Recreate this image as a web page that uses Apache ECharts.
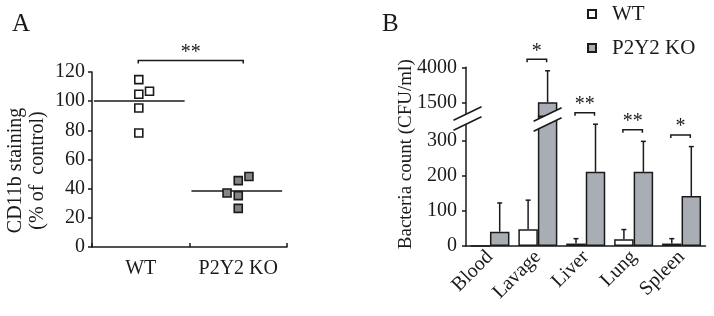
<!DOCTYPE html>
<html><head><meta charset="utf-8">
<script src="https://cdn.jsdelivr.net/npm/echarts@6/dist/echarts.min.js"></script>
<style>html,body{margin:0;padding:0;background:#fff}#c{width:714px;height:316px}</style>
</head><body><div id="c"></div>
<script>
// ---------- Panel A data ----------
const groupsA = ['WT', 'P2Y2 KO'];
const wtValuesA = [114.8, 104.7, 106.8, 95.3, 78.2];
const wtJitterA = [-0.02, -0.02, 0.09, -0.02, -0.02];
const koValuesA = [48.3, 45.5, 37.0, 35.2, 26.5];
const koJitterA = [0.11, 0, -0.115, 0, 0];
const mediansA = [100.1, 38.4];
const sigA = '**';

// ---------- Panel B data ----------
const categoriesB = ['Blood', 'Lavage', 'Liver', 'Lung', 'Spleen'];
const wtMeanB = [0, 48, 7, 19, 7];
const wtSdB = [0, 83, 14, 28, 14];
const koMeanB = [41, 1500, 212, 212, 143];
const koSdB = [82, 2250, 136, 87, 141];
const sigB = ['', '*', '**', '**', '*'];
const lowTicksB = [0, 100, 200, 300];
const highTicksB = [1500, 4000];

// ---------- style / layout ----------
const FONT = 'Liberation Serif';
const INK = '#1a1a1a';
const KO_BAR = '#a9adb5';
const KO_DOT = '#858585';
const LW = 1.5;
const HALF = 0.2035;      // half of bar width as fraction of category band
const LOW_MAX = 370, HIGH_MIN = 500;

const gridA = {left: 92, top: 72, width: 195, height: 175};
const gridBLow = {left: 466, top: 116.5, width: 239.5, height: 129.5};
const gridBHigh = {left: 466, top: 67.3, width: 239.5, height: 49};

const chart = echarts.init(document.getElementById('c'));

const lblStyle = {fontFamily: FONT, fontSize: 20, color: INK};
const axisLine = {show: true, onZero: false, lineStyle: {color: INK, width: LW}};
const plain = v => String(v);

function medianItem(params, api) {
  const i = api.value(0), m = api.value(1);
  const p1 = api.coord([i - 0.48, m]);
  const p2 = api.coord([i + 0.45, m]);
  return {type: 'line', shape: {x1: p1[0], y1: p1[1], x2: p2[0], y2: p2[1]},
          style: {stroke: INK, lineWidth: LW}};
}
function bracketAItem(params, api) {
  const top = api.value(1);
  const l = api.coord([0, top]), r = api.coord([1, top]);
  const y = l[1] - 19, xl = l[0] - 2.5, xr = r[0] + 5;
  return {type: 'group', children: [
    {type: 'polyline', shape: {points: [[xl, y + 3], [xl, y], [xr, y], [xr, y + 3]]},
     style: {stroke: INK, lineWidth: LW, fill: null}},
    {type: 'text', style: {text: sigA, x: (xl + xr) / 2, y: y - 8, align: 'center', verticalAlign: 'middle',
     fontFamily: FONT, fontSize: 20, fill: INK}}
  ]};
}
function errorItem(params, api) {
  const i = api.value(0), mean = api.value(1), sd = api.value(2), s = api.value(3);
  if (!(sd > 0)) return null;
  const band = api.size([1, 0])[0];
  const c0 = api.coord([i, mean]);
  const c1 = api.coord([i, mean + sd]);
  const x = c0[0] + (s ? 1 : -1) * band * HALF;
  return {type: 'group', children: [
    {type: 'line', shape: {x1: x, y1: c0[1], x2: x, y2: c1[1]}, style: {stroke: INK, lineWidth: LW}},
    {type: 'line', shape: {x1: x - 2.5, y1: c1[1], x2: x + 2.5, y2: c1[1]}, style: {stroke: INK, lineWidth: LW}}
  ]};
}
function bracketBItem(params, api) {
  const i = api.value(0), top = api.value(1);
  const band = api.size([1, 0])[0];
  const c = api.coord([i, top]);
  const off = band * HALF;
  const y = c[1] - 11.5, xl = c[0] - off - 1, xr = c[0] + off - 1;
  return {type: 'group', children: [
    {type: 'polyline', shape: {points: [[xl, y + 3], [xl, y], [xr, y], [xr, y + 3]]},
     style: {stroke: INK, lineWidth: LW, fill: null}},
    {type: 'text', style: {text: sigB[i], x: (xl + xr) / 2, y: y - 8, align: 'center', verticalAlign: 'middle',
     fontFamily: FONT, fontSize: 20, fill: INK}}
  ]};
}

const errLow = [], errHigh = [], brLow = [], brHigh = [];
categoriesB.forEach((c, i) => {
  errLow.push([i, wtMeanB[i], wtSdB[i], 0]);
  (koMeanB[i] > LOW_MAX ? errHigh : errLow).push([i, koMeanB[i], koSdB[i], 1]);
  if (sigB[i]) {
    const top = koMeanB[i] + koSdB[i];
    (top > LOW_MAX ? brHigh : brLow).push([i, top]);
  }
});

const barCommon = {type: 'bar', barWidth: (HALF * 200).toFixed(2) + '%', barGap: '0%', clip: true};
const wtStyle = {color: '#fff', borderColor: INK, borderWidth: LW};
const koStyle = {color: KO_BAR, borderColor: INK, borderWidth: LW};

chart.setOption({
  animation: false,
  backgroundColor: '#fff',
  title: [
    {text: 'A', left: 12, top: 12, padding: 0, textStyle: {fontFamily: FONT, fontSize: 25, fontWeight: 'normal', color: INK}},
    {text: 'B', left: 382, top: 12, padding: 0, textStyle: {fontFamily: FONT, fontSize: 25, fontWeight: 'normal', color: INK}}
  ],
  legend: {
    orient: 'vertical', left: 587, top: 2, padding: 0, itemGap: 10,
    itemWidth: 8, itemHeight: 8, icon: 'rect', selectedMode: false,
    textStyle: {fontFamily: FONT, fontSize: 21, color: INK, lineHeight: 24, padding: [0, 0, 0, 11]},
    data: ['WT', 'P2Y2 KO']
  },
  grid: [
    Object.assign({containLabel: false}, gridA),
    Object.assign({containLabel: false}, gridBLow),
    Object.assign({containLabel: false}, gridBHigh)
  ],
  xAxis: [
    {type: 'category', gridIndex: 0, data: groupsA, boundaryGap: true, position: 'bottom',
     axisLine: axisLine, axisTick: {show: true, inside: true, length: 4, interval: 0, lineStyle: {color: INK, width: LW}},
     axisLabel: Object.assign({margin: 12, interval: 0}, lblStyle)},
    {type: 'value', gridIndex: 0, min: -0.5, max: 1.5, show: false, position: 'top'},
    {type: 'category', gridIndex: 1, data: categoriesB, boundaryGap: true, position: 'bottom',
     axisLine: axisLine, axisTick: {show: false},
     axisLabel: Object.assign({margin: 8, rotate: 45, interval: 0}, lblStyle)},
    {type: 'category', gridIndex: 2, data: categoriesB, show: false}
  ],
  yAxis: [
    {type: 'value', gridIndex: 0, min: 0, max: 120, interval: 20, position: 'left',
     name: 'CD11b staining\n(% of  control)', nameLocation: 'middle', nameGap: 43,
     nameTextStyle: {fontFamily: FONT, fontSize: 20, color: INK, lineHeight: 22, padding: [0, 22, 0, 0]},
     axisLine: axisLine, axisTick: {show: true, length: 4, lineStyle: {color: INK, width: LW}},
     axisLabel: Object.assign({margin: 7, formatter: plain}, lblStyle), splitLine: {show: false}},
    {type: 'value', gridIndex: 1, min: 0, max: LOW_MAX, interval: 100, position: 'left',
     name: 'Bacteria count (CFU/ml)', nameLocation: 'middle', nameGap: 50,
     nameTextStyle: {fontFamily: FONT, fontSize: 19, color: INK, padding: [0, 0, 0, 54]},
     axisLine: axisLine,
     axisTick: {show: true, length: 4, lineStyle: {color: INK, width: LW}, customValues: lowTicksB},
     axisLabel: Object.assign({margin: 9, customValues: lowTicksB, formatter: plain}, lblStyle), splitLine: {show: false}},
    {type: 'value', gridIndex: 2, min: HIGH_MIN, max: 4000, position: 'left',
     axisLine: axisLine,
     axisTick: {show: true, length: 4, lineStyle: {color: INK, width: LW}, customValues: highTicksB},
     axisLabel: Object.assign({margin: 9, customValues: highTicksB, formatter: plain}, lblStyle), splitLine: {show: false}}
  ],
  series: [
    {name: 'A-WT', type: 'scatter', xAxisIndex: 1, yAxisIndex: 0, symbol: 'rect', symbolSize: 8,
     itemStyle: {color: '#fff', borderColor: INK, borderWidth: 1.6, opacity: 1},
     data: wtValuesA.map((v, i) => [0 + wtJitterA[i], v]), z: 5},
    {name: 'A-KO', type: 'scatter', xAxisIndex: 1, yAxisIndex: 0, symbol: 'rect', symbolSize: 8,
     itemStyle: {color: KO_DOT, borderColor: INK, borderWidth: 1.6, opacity: 1},
     data: koValuesA.map((v, i) => [1 + koJitterA[i], v]), z: 5},
    {name: 'A-median', type: 'custom', xAxisIndex: 1, yAxisIndex: 0, renderItem: medianItem,
     data: mediansA.map((m, i) => [i, m]), z: 3},
    {name: 'A-bracket', type: 'custom', xAxisIndex: 1, yAxisIndex: 0, renderItem: bracketAItem,
     data: [[0, Math.max(...wtValuesA, ...koValuesA)]]},
    Object.assign({name: 'WT', xAxisIndex: 2, yAxisIndex: 1, itemStyle: wtStyle, data: wtMeanB}, barCommon),
    Object.assign({name: 'P2Y2 KO', xAxisIndex: 2, yAxisIndex: 1, itemStyle: koStyle, data: koMeanB}, barCommon),
    Object.assign({name: 'WT', xAxisIndex: 3, yAxisIndex: 2, itemStyle: wtStyle, data: wtMeanB}, barCommon),
    Object.assign({name: 'P2Y2 KO', xAxisIndex: 3, yAxisIndex: 2, itemStyle: koStyle, data: koMeanB}, barCommon),
    {name: 'err-low', type: 'custom', xAxisIndex: 2, yAxisIndex: 1, renderItem: errorItem, data: errLow},
    {name: 'err-high', type: 'custom', xAxisIndex: 3, yAxisIndex: 2, renderItem: errorItem, data: errHigh},
    {name: 'br-low', type: 'custom', xAxisIndex: 2, yAxisIndex: 1, renderItem: bracketBItem, data: brLow},
    {name: 'br-high', type: 'custom', xAxisIndex: 3, yAxisIndex: 2, renderItem: bracketBItem, data: brHigh}
  ]
});

// axis-break marks (decoration) placed from the axes' own pixel mapping
function breakMark(cx, cy) {
  const hw = 14, k = 0.48, h = 5;
  const line = d => ({type: 'polyline', z: 101,
    shape: {points: [[cx - hw, cy + hw * k + d], [cx + hw, cy - hw * k + d]]},
    style: {stroke: INK, lineWidth: LW, fill: null}});
  return [
    {type: 'polygon', z: 100, shape: {points: [[cx - hw, cy + hw * k - h], [cx + hw, cy - hw * k - h],
      [cx + hw, cy - hw * k + h], [cx - hw, cy + hw * k + h]]}, style: {fill: '#fff'}},
    line(-h), line(h)
  ];
}
const junction = chart.convertToPixel({yAxisIndex: 1}, LOW_MAX);
const c0 = chart.convertToPixel({xAxisIndex: 2}, 0);
const c1 = chart.convertToPixel({xAxisIndex: 2}, 1);
const band = c1 - c0;
const axisX = c0 - band / 2;
const bi = categoriesB.findIndex((c, i) => koMeanB[i] > LOW_MAX);
const barX = chart.convertToPixel({xAxisIndex: 2}, bi) + band * HALF;
chart.setOption({graphic: [].concat(breakMark(axisX + 1.5, junction + 2), breakMark(barX, junction + 3))});
</script>
</body></html>
